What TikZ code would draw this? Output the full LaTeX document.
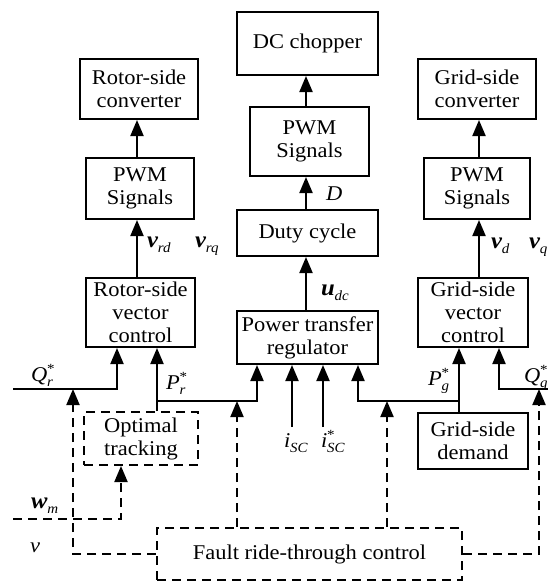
\documentclass[tikz,border=0pt]{standalone}
\usepackage{fontspec}
\setmainfont{Liberation Serif}[FakeStretch=1.07]
\usetikzlibrary{arrows.meta}
\newcommand{\mysub}[1]{\raisebox{-5pt}{\fontsize{14}{14}\selectfont\itshape #1}}
\newcommand{\mysupsub}[2]{\makebox[0pt][l]{\raisebox{8pt}{\fontsize{14}{14}\selectfont #1}}\raisebox{-5pt}{\fontsize{14}{14}\selectfont\itshape #2}}
\newcommand{\bvar}[1]{{\fontsize{23}{23}\selectfont\bfseries\itshape #1}}
\tikzset{
  blk/.style 2 args={draw, line width=2pt, minimum width=#1, minimum height=#2, inner sep=0pt, align=center},
  dblk/.style 2 args={blk={#1}{#2}, dash pattern=on 9pt off 6pt},
  arr/.style={-{Triangle[length=16pt,width=13pt]}, line width=2pt},
  dsh/.style={dash pattern=on 9pt off 6pt},
  lbl/.style={inner sep=0pt, anchor=base west}
}
\begin{document}
\begin{tikzpicture}[x=1pt, y=-1pt, font=\fontsize{21}{23}\selectfont, line width=2pt]
\useasboundingbox (0,0) rectangle (548,581);
% blocks
\node[blk={118}{60}] (rconv) at (139,89) {Rotor-side\\converter};
\node[blk={108}{61}] (rpwm) at (140,188.5) {PWM\\Signals};
\node[blk={109}{69}] (rvc) at (140.5,312.5) {Rotor-side\\vector\\control};
\node[blk={141}{63}] (dcc) at (307.5,43.5) {DC chopper};
\node[blk={119}{69}] (mpwm) at (309.5,141.5) {PWM\\Signals};
\node[blk={141}{46}] (duty) at (307.5,233) {Duty cycle};
\node[blk={141}{53}] (ptr) at (307.5,337.5) {Power transfer\\regulator};
\node[blk={118}{60}] (gconv) at (477,89) {Grid-side\\converter};
\node[blk={106}{61}] (gpwm) at (477,188.5) {PWM\\Signals};
\node[blk={110}{69}] (gvc) at (473,312.5) {Grid-side\\vector\\control};
\node[blk={110}{56}] (gdem) at (473,441) {Grid-side\\demand};
\node[dblk={114}{53}] (opt) at (141,438.5) {Optimal\\tracking};
\node[dblk={305}{52}] (frt) at (309.5,554) {Fault ride-through control};
% column / junction coordinates
\coordinate (colR) at (137,0);
\coordinate (colM) at (306,0);
\coordinate (colG) at (479,0);
\coordinate (xq) at (117,0);
\coordinate (xp) at (157,0);
\coordinate (x73) at (73,0);
\coordinate (x121) at (121,0);
\coordinate (x237) at (237,0);
\coordinate (x257) at (257,0);
\coordinate (x358) at (358,0);
\coordinate (x387) at (387,0);
\coordinate (x499) at (499,0);
\coordinate (x539) at (539,0);
\coordinate (qrL) at (13,389);
\coordinate (qgR) at (548,389);
\coordinate (prj) at (157,401);
\coordinate (pgj) at (459,401);
\coordinate (wmL) at (13,519);
\coordinate (isc) at (292,427);
\coordinate (iscs) at (323,427);
% vertical signal chains
\draw[arr] (colR |- rpwm.north) -- (colR |- rconv.south);
\draw[arr] (colR |- rvc.north) -- (colR |- rpwm.south);
\draw[arr] (colM |- mpwm.north) -- (colM |- dcc.south);
\draw[arr] (colM |- duty.north) -- (colM |- mpwm.south);
\draw[arr] (colM |- ptr.north) -- (colM |- duty.south);
\draw[arr] (colG |- gpwm.north) -- (colG |- gconv.south);
\draw[arr] (colG |- gvc.north) -- (colG |- gpwm.south);
% rotor-side references
\draw[arr] (qrL) -| (xq |- rvc.south);
\draw[arr] (xp |- opt.north) -- (xp |- rvc.south);
\draw[arr] (prj) -| (x257 |- ptr.south);
% regulator inputs
\draw[arr] (isc) -- (isc |- ptr.south);
\draw[arr] (iscs) -- (iscs |- ptr.south);
% grid-side references
\draw[arr] (pgj |- gdem.north) -- (pgj |- gvc.south);
\draw[arr] (pgj) -| (x358 |- ptr.south);
\draw[arr] (qgR) -| (x499 |- gvc.south);
% dashed fault ride-through / tracking signals
\draw[arr, dsh] (wmL) -| (x121 |- opt.south);
\draw[arr, dsh] (frt.west) -| (x73 |- qrL);
\draw[arr, dsh] (x237 |- frt.north) -- (x237 |- prj);
\draw[arr, dsh] (x387 |- frt.north) -- (x387 |- pgj);
\draw[arr, dsh] (frt.east) -| (x539 |- qgR);
% labels
\node[lbl] (lvrd) at (146,247) {\bvar{v}\mysub{rd}};
\node[lbl] (lvrq) at (194,247) {\bvar{v}\mysub{rq}};
\node[lbl] (lvd) at (490,248) {\bvar{v}\mysub{d}};
\node[lbl] (lvq) at (528,248) {\bvar{v}\mysub{q}};
\node[lbl] (lD) at (325,200) {\textit{D}};
\node[lbl] (ludc) at (320,295) {\bvar{u}\mysub{dc}};
\node[lbl] (lQr) at (30,381) {\textit{Q}\mysupsub{*}{r}};
\node[lbl] (lPr) at (165,389) {\textit{P}\mysupsub{*}{r}};
\node[lbl] (lPg) at (427,385) {\textit{P}\mysupsub{*}{g}};
\node[lbl] (lQg) at (523,382) {\textit{Q}\mysupsub{*}{g}};
\node[lbl] (lisc) at (283,447) {\textit{i}\mysub{SC}};
\node[lbl] (liscs) at (320,447) {\textit{i}\mysupsub{*}{SC}};
\node[lbl] (lwm) at (30,508) {\bvar{w}\mysub{m}};
\node[lbl] (lnu) at (29,552) {\textit{ν}};
\end{tikzpicture}
\end{document}
